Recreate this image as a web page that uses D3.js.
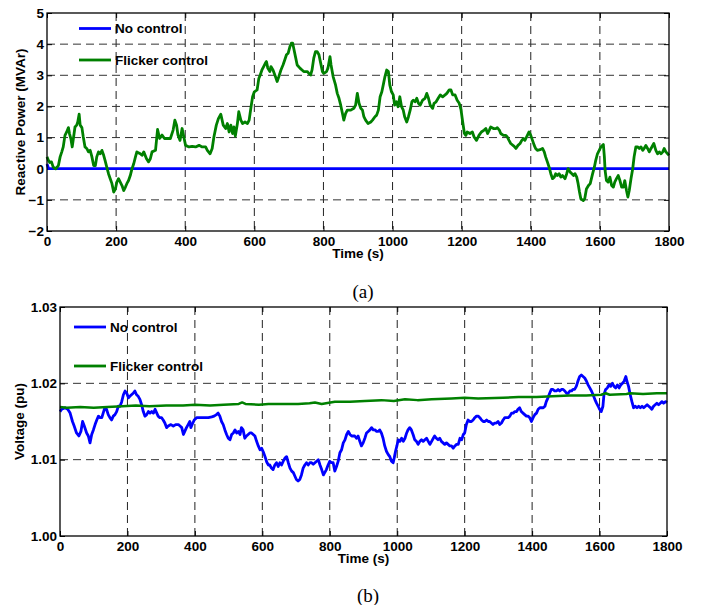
<!DOCTYPE html>
<html>
<head>
<meta charset="utf-8">
<script src="https://cdn.jsdelivr.net/npm/d3@7"></script>
<style>
	body { margin: 0; background: #fff; }
	svg text { font-family: "Liberation Sans", Arial, sans-serif; font-weight: bold; font-size: 13.5px; fill: #000; }
	svg text.caption { font-family: "Liberation Serif", "Times New Roman", serif; font-weight: normal; font-size: 19px; }
</style>
</head>
<body>
<div id="app"></div>
<script>
// time axis ticks (s)
const timeTicks = [0, 200, 400, 600, 800, 1000, 1200, 1400, 1600, 1800];
const qTicks = [-2, -1, 0, 1, 2, 3, 4, 5];
const vTicks = [1.00, 1.01, 1.02, 1.03];
const legendLabels = ['No control', 'Flicker control'];

// (a) reactive power, MVAr : [time, value]
const qNoControl = [[0, 0.15], [5, 0], [1800, 0]];
const qFlicker = [[0,0.38],[4,0.27],[8,0.2],[13,0.22],[18,0.05],[25,0],[33,0.1],[38,0.38],[43,0.55],[47,0.7],[52,1.07],[57,1.18],[62,1.32],[65,1.13],[69,0.97],[73,0.7],[77,1.02],[81,1.34],[86,1.4],[89,1.5],[93,1.75],[96,1.4],[101,1.32],[105,1.02],[110,0.7],[115,0.65],[120,0.54],[125,0.59],[130,0.38],[135,0.1],[140,0.1],[144,0.38],[149,0.54],[154,0.48],[159,0.59],[164,0.43],[168,0.27],[173,0.05],[178,-0.16],[183,-0.32],[188,-0.48],[193,-0.75],[198,-0.65],[202,-0.43],[207,-0.32],[212,-0.43],[217,-0.54],[222,-0.7],[227,-0.59],[231,-0.48],[236,-0.38],[241,-0.22],[246,0],[251,0.16],[256,0.38],[260,0.54],[270,0.48],[275,0.43],[280,0.54],[288,0.32],[294,0.22],[299,0.32],[304,0.54],[314,0.59],[320,1.26],[326,0.97],[333,1.08],[340,0.97],[348,0.97],[357,0.97],[365,1.24],[370,1.56],[375,1.4],[379,1.08],[385,0.91],[391,1.29],[396,1.02],[401,0.75],[411,0.7],[420,0.72],[430,0.7],[440,0.75],[449,0.7],[459,0.7],[464,0.59],[472,0.48],[478,0.65],[483,1.02],[490,1.4],[496,1.61],[503,1.75],[510,1.4],[517,1.29],[522,1.45],[527,1.18],[532,1.4],[537,1.13],[541,1.34],[545,1.05],[551,1.45],[555,1.83],[561,1.56],[566,1.45],[573,1.5],[580,1.45],[585,1.56],[590,1.95],[595,2.31],[600,2.47],[608,2.53],[613,2.9],[617,3.01],[622,3.17],[627,3.28],[632,3.39],[635,3.44],[639,3.23],[645,3.12],[648,3.28],[654,3.17],[661,2.96],[666,2.8],[671,2.96],[677,3.17],[683,3.33],[688,3.49],[693,3.66],[698,3.71],[703,3.92],[707,4.03],[711,4.03],[714,3.87],[719,3.6],[724,3.33],[732,3.23],[738,3.17],[743,3.12],[753,3.12],[758,3.06],[763,3.01],[767,3.17],[772,3.55],[777,3.76],[782,3.76],[787,3.66],[792,3.39],[797,3.12],[801,3.06],[809,3.12],[813,3.23],[819,3.6],[822,3.33],[828,2.96],[835,2.69],[840,2.42],[845,2.26],[850,2.04],[855,1.77],[859,1.56],[864,1.77],[869,1.88],[879,1.88],[888,1.94],[893,2.04],[898,2.42],[903,2.1],[908,1.94],[913,1.88],[917,1.67],[922,1.56],[929,1.45],[937,1.5],[942,1.56],[949,1.67],[954,1.72],[959,1.88],[964,2.31],[969,2.47],[974,2.74],[978,2.96],[983,3.17],[988,3.12],[992,2.69],[997,2.47],[1002,2.37],[1006,2.04],[1011,2.15],[1016,1.99],[1021,2.31],[1026,1.99],[1031,1.88],[1035,1.67],[1041,1.5],[1046,1.67],[1051,1.88],[1056,2.15],[1060,2.2],[1065,2.15],[1070,2.26],[1075,2.1],[1080,2.04],[1087,2.2],[1094,2.26],[1099,2.42],[1104,2.26],[1109,2.04],[1116,1.94],[1120,2.1],[1126,2.15],[1132,2.26],[1138,2.37],[1145,2.31],[1152,2.37],[1157,2.42],[1164,2.53],[1169,2.53],[1174,2.37],[1181,2.37],[1187,2.2],[1193,2.1],[1198,1.9],[1203,1.5],[1208,1.13],[1212,1.07],[1216,1.18],[1224,1.13],[1231,1.18],[1236,1.02],[1243,0.91],[1250,1.07],[1257,1.18],[1265,1.24],[1270,1.29],[1275,1.13],[1280,1.24],[1284,1.34],[1292,1.29],[1299,1.29],[1303,1.32],[1309,1.24],[1313,1.13],[1321,1.07],[1328,1.07],[1332,1.02],[1337,0.91],[1342,0.81],[1352,0.72],[1357,0.65],[1363,0.75],[1369,0.81],[1374,0.91],[1379,0.97],[1383,0.91],[1388,1.02],[1395,1.18],[1400,1.07],[1405,0.91],[1410,0.75],[1414,0.65],[1419,0.59],[1427,0.61],[1434,0.65],[1439,0.54],[1443,0.38],[1448,0.22],[1453,0.05],[1458,-0.16],[1463,-0.32],[1468,-0.27],[1472,-0.16],[1477,-0.22],[1482,-0.16],[1487,-0.27],[1492,-0.22],[1499,-0.32],[1504,-0.16],[1508,0],[1514,-0.11],[1519,-0.16],[1524,-0.22],[1528,-0.16],[1533,-0.27],[1537,-0.48],[1541,-0.75],[1545,-0.97],[1552,-1.02],[1556,-0.97],[1561,-0.65],[1567,-0.54],[1572,-0.48],[1579,-0.16],[1584,0.05],[1588,0.27],[1593,0.48],[1598,0.59],[1603,0.7],[1610,0.78],[1613,0.38],[1615,-0.05],[1619,-0.38],[1624,-0.43],[1629,-0.27],[1634,-0.54],[1639,-0.59],[1643,-0.43],[1648,-0.32],[1653,-0.22],[1658,-0.38],[1663,-0.59],[1668,-0.59],[1672,-0.38],[1677,-0.7],[1681,-0.91],[1685,-0.7],[1690,-0.32],[1695,0],[1699,0.38],[1704,0.7],[1709,0.7],[1714,0.65],[1719,0.7],[1724,0.59],[1728,0.65],[1733,0.75],[1738,0.65],[1743,0.54],[1748,0.65],[1756,0.81],[1762,0.59],[1767,0.48],[1772,0.54],[1777,0.48],[1782,0.54],[1786,0.65],[1791,0.54],[1796,0.48],[1800,0.43]];

// (b) voltage, pu : [time, value]
const vNoControl = [[0,1.0163],[5,1.0166],[15,1.0168],[23,1.0166],[30,1.0161],[37,1.0150],[42,1.0144],[49,1.0135],[56,1.0131],[62,1.0137],[67,1.0150],[72,1.0144],[79,1.0135],[84,1.0131],[89,1.0122],[94,1.0133],[99,1.0139],[104,1.0146],[109,1.0152],[114,1.0157],[119,1.0155],[124,1.0155],[128,1.0161],[133,1.0168],[138,1.0166],[143,1.0159],[148,1.0155],[153,1.0152],[158,1.0157],[163,1.0159],[168,1.0163],[173,1.0170],[178,1.0170],[183,1.0176],[188,1.0185],[193,1.0190],[198,1.0187],[203,1.0181],[207,1.0183],[212,1.0185],[217,1.0187],[222,1.0190],[227,1.0185],[232,1.0183],[237,1.0179],[242,1.0172],[247,1.0163],[252,1.0157],[257,1.0159],[262,1.0163],[267,1.0161],[272,1.0163],[277,1.0161],[282,1.0166],[287,1.0161],[291,1.0157],[296,1.0155],[301,1.0155],[306,1.0152],[311,1.0148],[316,1.0142],[321,1.0144],[329,1.0146],[336,1.0144],[343,1.0146],[351,1.0146],[356,1.0144],[361,1.0142],[366,1.0133],[370,1.0137],[375,1.0142],[380,1.0146],[385,1.0150],[388,1.0142],[392,1.0146],[398,1.0152],[405,1.0155],[410,1.0155],[420,1.0155],[430,1.0155],[440,1.0155],[450,1.0156],[457,1.0157],[464,1.0159],[469,1.0161],[474,1.0157],[479,1.0150],[484,1.0146],[489,1.0139],[494,1.0133],[499,1.0128],[504,1.0126],[509,1.0133],[514,1.0135],[519,1.0139],[524,1.0135],[529,1.0137],[534,1.0133],[538,1.0142],[543,1.0139],[548,1.0128],[553,1.0131],[558,1.0133],[563,1.0135],[568,1.0135],[573,1.0133],[578,1.0131],[583,1.0124],[588,1.0118],[593,1.0113],[598,1.0115],[603,1.0110],[608,1.0104],[613,1.0097],[618,1.0093],[622,1.0093],[627,1.0089],[632,1.0087],[637,1.0093],[642,1.0096],[647,1.0091],[652,1.0096],[657,1.0093],[662,1.0098],[667,1.0102],[672,1.0104],[677,1.0096],[682,1.0089],[687,1.0085],[692,1.0083],[697,1.0078],[701,1.0074],[706,1.0072],[711,1.0074],[716,1.0080],[721,1.0089],[726,1.0093],[731,1.0096],[736,1.0093],[741,1.0096],[746,1.0096],[751,1.0094],[756,1.0096],[761,1.0098],[766,1.0100],[771,1.0093],[776,1.0087],[781,1.0080],[785,1.0083],[790,1.0087],[795,1.0093],[800,1.0098],[805,1.0096],[810,1.0096],[815,1.0085],[820,1.0091],[825,1.0098],[830,1.0109],[835,1.0113],[840,1.0122],[845,1.0126],[850,1.0133],[855,1.0137],[860,1.0133],[865,1.0131],[869,1.0131],[874,1.0131],[879,1.0128],[884,1.0131],[889,1.0124],[894,1.0118],[899,1.0122],[904,1.0128],[909,1.0135],[914,1.0137],[919,1.0139],[924,1.0142],[929,1.0139],[934,1.0139],[939,1.0137],[944,1.0137],[948,1.0139],[953,1.0135],[958,1.0128],[963,1.0118],[968,1.0111],[973,1.0107],[978,1.0104],[983,1.0098],[988,1.0096],[991,1.0102],[995,1.0111],[999,1.0118],[1003,1.0126],[1008,1.0124],[1013,1.0128],[1018,1.0124],[1023,1.0128],[1028,1.0135],[1032,1.0139],[1037,1.0142],[1042,1.0139],[1047,1.0133],[1052,1.0126],[1057,1.0124],[1062,1.0120],[1067,1.0124],[1072,1.0126],[1077,1.0124],[1082,1.0126],[1087,1.0128],[1092,1.0124],[1097,1.0120],[1102,1.0124],[1107,1.0128],[1111,1.0131],[1116,1.0128],[1121,1.0126],[1126,1.0128],[1131,1.0124],[1136,1.0122],[1141,1.0120],[1146,1.0122],[1151,1.0120],[1156,1.0118],[1161,1.0118],[1166,1.0115],[1171,1.0118],[1176,1.0120],[1181,1.0120],[1186,1.0128],[1191,1.0126],[1196,1.0133],[1200,1.0135],[1205,1.0146],[1210,1.0152],[1215,1.0150],[1220,1.0150],[1225,1.0152],[1230,1.0155],[1235,1.0157],[1240,1.0157],[1245,1.0155],[1250,1.0152],[1255,1.0150],[1260,1.0150],[1265,1.0152],[1270,1.0150],[1274,1.0150],[1279,1.0148],[1284,1.0146],[1289,1.0148],[1294,1.0148],[1299,1.0150],[1304,1.0146],[1309,1.0148],[1314,1.0152],[1319,1.0155],[1324,1.0155],[1329,1.0155],[1334,1.0157],[1339,1.0161],[1344,1.0161],[1349,1.0163],[1354,1.0163],[1358,1.0166],[1363,1.0168],[1368,1.0163],[1373,1.0161],[1378,1.0159],[1383,1.0157],[1388,1.0157],[1393,1.0155],[1398,1.0150],[1403,1.0155],[1408,1.0159],[1413,1.0161],[1418,1.0166],[1423,1.0168],[1433,1.0168],[1438,1.0170],[1442,1.0176],[1447,1.0181],[1452,1.0187],[1457,1.0192],[1462,1.0192],[1467,1.0190],[1472,1.0190],[1477,1.0192],[1482,1.0190],[1487,1.0192],[1492,1.0192],[1497,1.0190],[1502,1.0187],[1507,1.0187],[1512,1.0190],[1517,1.0190],[1521,1.0192],[1526,1.0192],[1531,1.0196],[1536,1.0203],[1541,1.0209],[1546,1.0211],[1551,1.0209],[1556,1.0207],[1561,1.0203],[1566,1.0198],[1571,1.0194],[1576,1.0190],[1581,1.0185],[1586,1.0179],[1591,1.0174],[1596,1.0170],[1600,1.0166],[1605,1.0163],[1610,1.0170],[1613,1.0185],[1618,1.0192],[1623,1.0194],[1628,1.0198],[1633,1.0196],[1638,1.0200],[1643,1.0196],[1648,1.0194],[1653,1.0198],[1658,1.0194],[1663,1.0198],[1668,1.0200],[1673,1.0203],[1678,1.0209],[1681,1.0203],[1686,1.0196],[1691,1.0185],[1696,1.0176],[1701,1.0168],[1706,1.0170],[1711,1.0168],[1716,1.0170],[1721,1.0168],[1726,1.0170],[1731,1.0168],[1736,1.0170],[1741,1.0172],[1746,1.0170],[1751,1.0168],[1755,1.0166],[1760,1.0170],[1765,1.0172],[1770,1.0174],[1775,1.0172],[1780,1.0174],[1785,1.0176],[1790,1.0174],[1796,1.0176],[1800,1.0175]];
const vFlicker = [[0,1.0169],[20,1.0168],[60,1.0169],[100,1.0168],[140,1.0169],[185,1.0170],[225,1.0171],[265,1.0170],[315,1.0171],[365,1.0171],[400,1.0172],[445,1.0171],[485,1.0172],[530,1.0173],[540,1.0175],[550,1.0173],[590,1.0172],[618,1.0173],[660,1.0173],[706,1.0173],[740,1.0174],[756,1.0175],[776,1.0173],[815,1.0176],[860,1.0176],[904,1.0177],[953,1.0178],[990,1.0177],[1023,1.0179],[1060,1.0178],[1102,1.0179],[1161,1.0180],[1200,1.0181],[1240,1.0180],[1314,1.0181],[1360,1.0182],[1413,1.0182],[1460,1.0183],[1512,1.0184],[1560,1.0184],[1605,1.0185],[1618,1.0187],[1630,1.0185],[1680,1.0186],[1690,1.0187],[1729,1.0186],[1770,1.0187],[1800,1.0187]];

const BLUE = '#0000ff';
const GREEN = '#008000';

const svg = d3.select('#app').append('svg')
	.attr('width', 707)
	.attr('height', 605);

svg.append('rect').attr('width', 707).attr('height', 605).attr('fill', '#fff');

const drawPanel = (p) => {
	const x = d3.scaleLinear().domain([0, 1800]).range([p.left, p.right]);
	const y = d3.scaleLinear().domain(p.yDomain).range([p.bottom, p.top]);
	const g = svg.append('g');

	// dashed grid
	g.selectAll('line.vgrid')
		.data(timeTicks.slice(1, -1))
		.enter()
		.append('line')
		.attr('x1', (d) => x(d)).attr('x2', (d) => x(d))
		.attr('y1', p.top).attr('y2', p.bottom)
		.attr('stroke', '#222')
		.attr('stroke-width', 1)
		.attr('stroke-dasharray', '8,5');
	g.selectAll('line.hgrid')
		.data(p.yTicks.slice(1, -1))
		.enter()
		.append('line')
		.attr('x1', p.left).attr('x2', p.right)
		.attr('y1', (d) => y(d)).attr('y2', (d) => y(d))
		.attr('stroke', '#333')
		.attr('stroke-width', 1)
		.attr('stroke-dasharray', '8,5');

	// inside ticks on all four sides
	const ax = [
		[d3.axisBottom(x).tickValues(timeTicks).tickSize(-5).tickPadding(5).tickFormat(d3.format('d')), `translate(0,${p.bottom})`],
		[d3.axisTop(x).tickValues(timeTicks).tickSize(-5).tickFormat(''), `translate(0,${p.top})`],
		[d3.axisLeft(y).tickValues(p.yTicks).tickSize(-5).tickPadding(3).tickFormat(p.yFormat), `translate(${p.left},0)`],
		[d3.axisRight(y).tickValues(p.yTicks).tickSize(-5).tickFormat(''), `translate(${p.right},0)`],
	];
	ax.forEach(([axis, tr]) => {
		const a = g.append('g').attr('transform', tr).call(axis);
		a.select('.domain').remove();
		a.selectAll('line').attr('stroke', '#000');
		a.selectAll('text').attr('font-family', null).attr('font-size', null);
	});

	const line = d3.line().x((d) => x(d[0])).y((d) => y(d[1]));
	p.series.forEach((s) => {
		g.append('path')
			.datum(s.data)
			.attr('fill', 'none')
			.attr('stroke', s.color)
			.attr('stroke-width', s.width)
			.attr('stroke-linejoin', 'round')
			.attr('d', line);
	});

	g.append('rect')
		.attr('x', p.left).attr('y', p.top)
		.attr('width', p.right - p.left).attr('height', p.bottom - p.top)
		.attr('fill', 'none')
		.attr('stroke', '#000')
		.attr('stroke-width', 1.3);

	// legend, no box
	p.series.forEach((s, i) => {
		const ly = p.legendY[i];
		g.append('line')
			.attr('x1', p.legendX).attr('x2', p.legendX + 32)
			.attr('y1', ly).attr('y2', ly)
			.attr('stroke', s.color)
			.attr('stroke-width', 2.8);
		g.append('text')
			.attr('x', p.legendX + 36)
			.attr('y', ly)
			.attr('dy', '0.36em')
			.text(legendLabels[i]);
	});

	g.append('text')
		.attr('x', (p.left + p.right) / 2)
		.attr('y', p.bottom + 27)
		.attr('text-anchor', 'middle')
		.text('Time (s)');

	g.append('text')
		.attr('transform', `translate(${p.yLabelX},${(p.top + p.bottom) / 2}) rotate(-90)`)
		.attr('text-anchor', 'middle')
		.text(p.yLabel);

	g.append('text')
		.attr('class', 'caption')
		.attr('x', p.captionX)
		.attr('y', p.captionY)
		.attr('text-anchor', 'middle')
		.text(p.caption);
};

drawPanel({
	left: 47, right: 669, top: 13, bottom: 231,
	yDomain: [-2, 5], yTicks: qTicks, yFormat: d3.format('d'),
	yLabel: 'Reactive Power (MVAr)', yLabelX: 25,
	legendX: 79, legendY: [28.5, 60],
	caption: '(a)', captionX: 363, captionY: 298,
	series: [
		{data: qNoControl, color: BLUE, width: 2.8},
		{data: qFlicker, color: GREEN, width: 2.8},
	],
});

drawPanel({
	left: 60, right: 667, top: 307, bottom: 536,
	yDomain: [1.00, 1.03], yTicks: vTicks, yFormat: d3.format('.2f'),
	yLabel: 'Voltage (pu)', yLabelX: 24,
	legendX: 74, legendY: [327, 366],
	caption: '(b)', captionX: 368, captionY: 602,
	series: [
		{data: vNoControl, color: BLUE, width: 2.8},
		{data: vFlicker, color: GREEN, width: 2.5},
	],
});
</script>
</body>
</html>
